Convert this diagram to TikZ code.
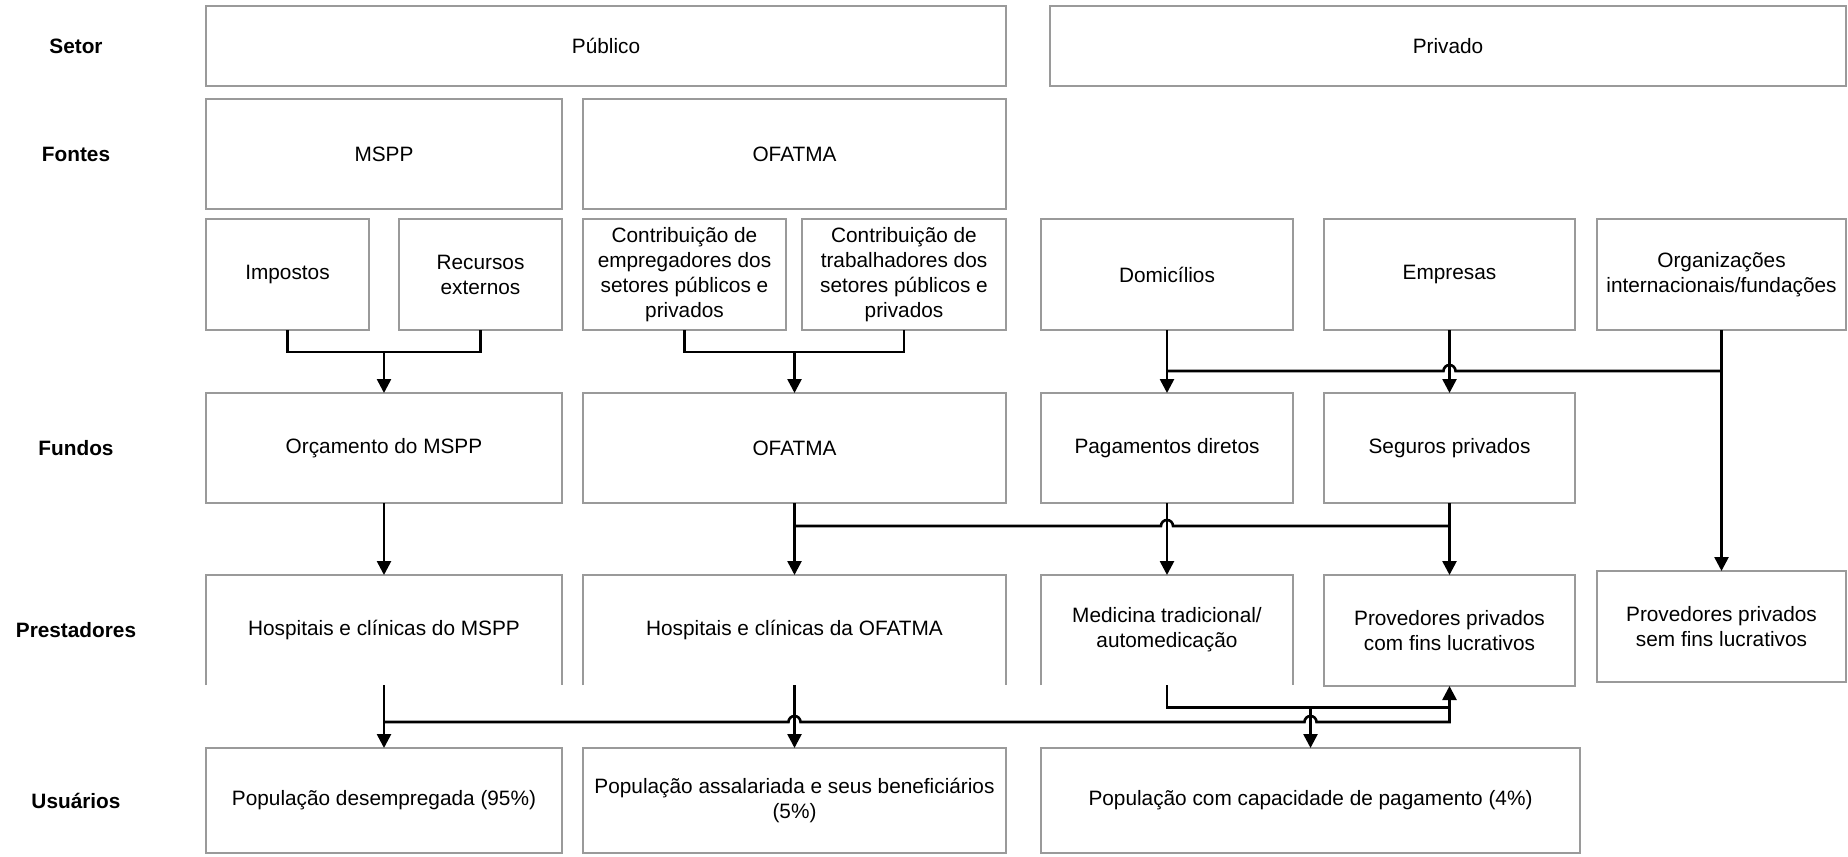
\documentclass[tikz,border=0pt]{standalone}
\usepackage{fontspec}
\setmainfont{Liberation Sans}
\usetikzlibrary{arrows.meta,calc}
\definecolor{bordaCinza}{HTML}{9A9A9A}

\begin{document}
\begin{tikzpicture}[x=1pt,y=1pt,
  every node/.style={font=\fontsize{20.8}{25}\selectfont},
  caixa/.style={draw=bordaCinza,line width=1.4pt,outer sep=0pt,inner sep=2pt,align=center},
  aberta/.style={outer sep=0pt,inner sep=2pt,align=center},
  rotulo/.style={font=\fontsize{20.8}{25}\selectfont\bfseries},
  fio/.style={line width=2.6pt,black},
  seta/.style={fio,-{Triangle[length=14pt,width=14pt]}}]
\useasboundingbox (0,0) rectangle (1848,-857);
% rotulos das linhas
\node[rotulo] (lsetor) at (76,-46) {Setor};
\node[rotulo] (lfontes) at (76,-154) {Fontes};
\node[rotulo] (lfundos) at (76,-448) {Fundos};
\node[rotulo] (lprest) at (76,-630) {Prestadores};
\node[rotulo] (lusu) at (76,-800.5) {Usuários};
% setor
\node[caixa,minimum width=800pt,minimum height=80pt] (pub) at (606,-46) {Público};
\node[caixa,minimum width=796pt,minimum height=80pt] (priv) at (1448,-46) {Privado};
% fontes
\node[caixa,minimum width=356pt,minimum height=110pt] (mspp) at (384,-154) {MSPP};
\node[caixa,minimum width=423pt,minimum height=110pt] (ofon) at (794.5,-154) {OFATMA};
\node[caixa,minimum width=163pt,minimum height=111pt] (imp) at (287.5,-274.5) {Impostos};
\node[caixa,minimum width=163pt,minimum height=111pt] (rec) at (480.5,-274.5) {Recursos\\externos};
\node[caixa,minimum width=203pt,minimum height=111pt] (cemp) at (684.5,-274.5) {Contribuição de\\empregadores dos\\setores públicos e\\privados};
\node[caixa,minimum width=204pt,minimum height=111pt] (ctrab) at (904,-274.5) {Contribuição de\\trabalhadores dos\\setores públicos e\\privados};
\node[caixa,minimum width=252pt,minimum height=111pt] (dom) at (1167,-274.5) {Domicílios};
\node[caixa,minimum width=251pt,minimum height=111pt] (emp) at (1449.5,-274.5) {Empresas};
\node[caixa,minimum width=249pt,minimum height=111pt] (org) at (1721.5,-274.5) {Organizações\\internacionais/fundações};
% fundos
\node[caixa,minimum width=356pt,minimum height=110pt] (orc) at (384,-448) {Orçamento do MSPP};
\node[caixa,minimum width=423pt,minimum height=110pt] (ofun) at (794.5,-448) {OFATMA};
\node[caixa,minimum width=252pt,minimum height=110pt] (pag) at (1167,-448) {Pagamentos diretos};
\node[caixa,minimum width=251pt,minimum height=110pt] (seg) at (1449.5,-448) {Seguros privados};
% prestadores
\node[aberta,minimum width=356pt,minimum height=110pt] (hmspp) at (384,-630) {Hospitais e clínicas do MSPP};
\node[aberta,minimum width=423pt,minimum height=110pt] (hofa) at (794.5,-630) {Hospitais e clínicas da OFATMA};
\node[aberta,minimum width=252pt,minimum height=110pt] (med) at (1167,-630) {Medicina tradicional/\\automedicação};
\node[caixa,minimum width=251pt,minimum height=111pt] (pcf) at (1449.5,-630.5) {Provedores privados\\com fins lucrativos};
\node[caixa,minimum width=249pt,minimum height=111pt] (psem) at (1721.5,-626.5) {Provedores privados\\sem fins lucrativos};
\foreach \n in {hmspp,hofa,med}
  \draw[draw=bordaCinza,line width=1.4pt] (\n.south west) |- (\n.north east) -- (\n.south east);
% usuarios
\node[caixa,minimum width=356pt,minimum height=105pt] (udes) at (384,-800.5) {População desempregada (95\%)};
\node[caixa,minimum width=423pt,minimum height=105pt] (uass) at (794.5,-800.5) {População assalariada e seus beneficiários\\(5\%)};
\node[caixa,minimum width=539pt,minimum height=105pt] (ucap) at (1310.5,-800.5) {População com capacidade de pagamento (4\%)};
% fontes -> fundos
\coordinate (jm) at (384,-352);
\coordinate (jo) at (794.5,-352);
\draw[fio] (imp.south) |- (jm) -| (rec.south);
\draw[seta] (jm) -- (orc.north);
\draw[fio] (cemp.south) |- (jo) -| (ctrab.south);
\draw[seta] (jo) -- (ofun.north);
\draw[seta] (dom.south) -- (pag.north);
\draw[seta] (emp.south) -- (seg.north);
\draw[seta] (org.south) -- (psem.north);
\coordinate (jd) at (1167,-371);
\coordinate (jg) at (1721.5,-371);
\draw[fio] (jd) -- ($(emp.south |- jd)+(-6,0)$) arc[start angle=180,end angle=0,radius=6] -- (jg);
% fundos -> prestadores
\draw[seta] (orc.south) -- (hmspp.north);
\draw[seta] (ofun.south) -- (hofa.north);
\draw[seta] (pag.south) -- (med.north);
\draw[seta] (seg.south) -- (pcf.north);
\coordinate (jf) at (794.5,-526);
\draw[fio] (jf) -- ($(pag.south |- jf)+(-6,0)$) arc[start angle=180,end angle=0,radius=6] -- (seg.south |- jf);
% prestadores -> usuarios
\draw[seta] (hmspp.south) -- (udes.north);
\draw[seta] (hofa.south) -- (uass.north);
\coordinate (jp) at (384,-722);
\coordinate (jt) at (1167,-707.7);
\draw[seta] (jp) -- ($(hofa.south |- jp)+(-6,0)$) arc[start angle=180,end angle=0,radius=6]
  -- ($(ucap.north |- jp)+(-6,0)$) arc[start angle=180,end angle=0,radius=6]
  -- (pcf.south |- jp) -- (pcf.south);
\draw[fio] (med.south) |- (pcf.south |- jt);
\draw[seta] (ucap.north |- jt) -- (ucap.north);
\end{tikzpicture}
\end{document}
